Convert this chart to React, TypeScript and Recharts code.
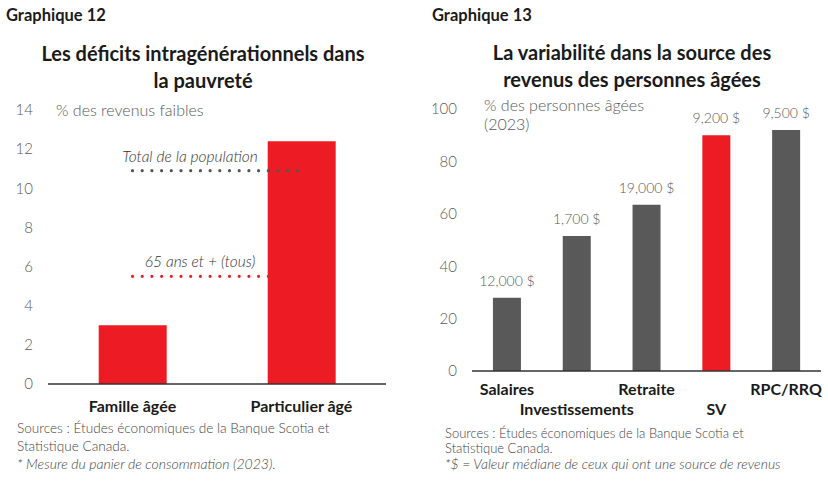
import React from 'react';
import { BarChart, Bar, XAxis, YAxis, Line, Cell, LabelList, ReferenceLine } from 'recharts';

// Graphique 12
const leftCategories = ['Famille âgée', 'Particulier âgé'];
const leftValues = [3.0, 12.4];
const leftTicks = [0, 2, 4, 6, 8, 10, 12, 14];
const totalPopulation = 10.9;
const seniorsAll = 5.5;

// Graphique 13
const rightCategories = ['Salaires', 'Investissements', 'Retraite', 'SV', 'RPC/RRQ'];
const rightValues = [28, 51.5, 63.5, 90, 92];
const rightMedians = ['12,000 $', '1,700 $', '19,000 $', '9,200 $', '9,500 $'];
const rightTicks = [0, 20, 40, 60, 80, 100];

const RED = '#ED1C24';
const GREY_BAR = '#595959';
const FONT = 'Lato, "Open Sans", sans-serif';
const TICK = { fill: '#595959', fontSize: 15, fontFamily: FONT, fontWeight: 300 };

const leftData = leftCategories.map((name, i) => ({
  name,
  value: leftValues[i],
  total: totalPopulation,
  seniors: seniorsAll,
}));

const rightData = rightCategories.map((name, i) => ({
  name,
  value: rightValues[i],
  median: rightMedians[i],
}));

const abs = (left: number, top: number, extra: React.CSSProperties = {}): React.CSSProperties => ({
  position: 'absolute',
  left,
  top,
  fontFamily: FONT,
  margin: 0,
  whiteSpace: 'nowrap',
  ...extra,
});

const LeftTick = (props: any) => {
  const { x, y, payload } = props;
  return (
    <text x={x} y={y} dy={28} textAnchor="middle" fill="#1a1a1a" fontSize={16} fontWeight={700} fontFamily={FONT}>
      {payload.value}
    </text>
  );
};

const RightTick = (props: any) => {
  const { x, y, payload, index } = props;
  return (
    <text x={x} y={y} dy={index % 2 === 0 ? 24 : 44} textAnchor="middle" fill="#1a1a1a" fontSize={16} fontWeight={700} fontFamily={FONT}>
      {payload.value}
    </text>
  );
};

const lineLabel = (text: string, frac: number, color: string) => (props: any) => {
  const vb = props.viewBox || {};
  return (
    <text x={vb.x + vb.width * frac} y={vb.y - 9} textAnchor="middle" fill={color} fontSize={15.5} fontStyle="italic" fontWeight={300} fontFamily={FONT}>
      {text}
    </text>
  );
};

const medianLabel = (props: any) => {
  const { x, y, width, value } = props;
  return (
    <text x={x + width / 2} y={y - 12} textAnchor="middle" fill="#595959" fontSize={14} fontWeight={300} fontFamily={FONT}>
      {value}
    </text>
  );
};

export default function App() {
  return (
    <div style={{ position: 'absolute', left: 0, top: 0, width: 828, height: 483, background: '#fff', overflow: 'hidden' }}>
      {/* left panel */}
      <div style={abs(6, 5, { fontSize: 16.5, fontWeight: 700, color: '#1a1a1a' })}>Graphique 12</div>
      <div style={abs(3, 40, { width: 400, textAlign: 'center', fontSize: 20, fontWeight: 700, color: '#1a1a1a', lineHeight: '27px', whiteSpace: 'normal' })}>
        Les déficits intragénérationnels dans
        <br />
        la pauvreté
      </div>
      <div style={abs(56, 100, { fontSize: 16, fontWeight: 300, color: '#595959' })}>% des revenus faibles</div>
      <div style={abs(0, 0)}>
        <BarChart width={414} height={483} data={leftData} margin={{ top: 110, right: 28, bottom: 69, left: 0 }} barCategoryGap="30%">
          <YAxis
            domain={[0, 14]}
            ticks={leftTicks}
            width={48}
            axisLine={false}
            tickLine={false}
            tick={TICK}
            tickMargin={9}
            interval={0}
          />
          <XAxis
            dataKey="name"
            height={30}
            axisLine={{ stroke: '#333', strokeWidth: 1.5 }}
            tickLine={false}
            tickSize={0}
            tickMargin={0}
            tick={<LeftTick />}
            interval={0}
          />
          <Line
            dataKey="seniors"
            stroke={RED}
            strokeWidth={3.2}
            strokeDasharray="0 9.7"
            strokeLinecap="round"
            dot={false}
            activeDot={false}
            isAnimationActive={false}
            zIndex={250}
          />
          <Bar dataKey="value" fill={RED} isAnimationActive={false} />
          <Line
            dataKey="total"
            stroke="#555"
            strokeWidth={3.2}
            strokeDasharray="0 9.7"
            strokeLinecap="round"
            dot={false}
            activeDot={false}
            isAnimationActive={false}
            zIndex={450}
          />
          <ReferenceLine y={totalPopulation} stroke="none" label={lineLabel('Total de la population', 0.42, '#333')} />
          <ReferenceLine y={seniorsAll} stroke="none" label={lineLabel('65 ans et + (tous)', 0.45, '#333')} />
        </BarChart>
      </div>
      <div style={abs(17, 420, { fontSize: 13.6, fontWeight: 300, color: '#444', lineHeight: '17.5px', whiteSpace: 'normal', width: 395 })}>
        Sources : Études économiques de la Banque Scotia et
        <br />
        Statistique Canada.
        <br />
        <i style={{ fontSize: 14 }}>* Mesure du panier de consommation (2023).</i>
      </div>

      {/* right panel */}
      <div style={abs(432, 5, { fontSize: 16.5, fontWeight: 700, color: '#1a1a1a' })}>Graphique 13</div>
      <div style={abs(432, 39, { width: 400, textAlign: 'center', fontSize: 20, fontWeight: 700, color: '#1a1a1a', lineHeight: '27px', whiteSpace: 'normal' })}>
        La variabilité dans la source des
        <br />
        revenus des personnes âgées
      </div>
      <div style={abs(484, 95, { fontSize: 16, fontWeight: 300, color: '#595959', lineHeight: '19px' })}>
        % des personnes âgées
        <br />
        (2023)
      </div>
      <div style={abs(414, 0)}>
        <BarChart width={414} height={483} data={rightData} margin={{ top: 109, right: 7, bottom: 82, left: 0 }} barCategoryGap="30%">
          <YAxis
            domain={[0, 100]}
            ticks={rightTicks}
            width={58}
            axisLine={false}
            tickLine={false}
            tick={TICK}
            tickMargin={9}
            interval={0}
          />
          <XAxis
            dataKey="name"
            height={30}
            axisLine={{ stroke: '#333', strokeWidth: 1.5 }}
            tickLine={false}
            tickSize={0}
            tickMargin={0}
            tick={<RightTick />}
            interval={0}
          />
          <Bar dataKey="value" fill={GREY_BAR} isAnimationActive={false}>
            {rightData.map((d) => (
              <Cell key={d.name} fill={d.name === 'SV' ? RED : GREY_BAR} />
            ))}
            <LabelList dataKey="median" content={medianLabel} />
          </Bar>
        </BarChart>
      </div>
      <div style={abs(445, 426, { fontSize: 13, fontWeight: 300, color: '#444', lineHeight: '15px', whiteSpace: 'normal', width: 383 })}>
        Sources : Études économiques de la Banque Scotia et
        <br />
        Statistique Canada.
        <br />
        <i style={{ fontSize: 14 }}>*$ = Valeur médiane de ceux qui ont une source de revenus</i>
      </div>
    </div>
  );
}
